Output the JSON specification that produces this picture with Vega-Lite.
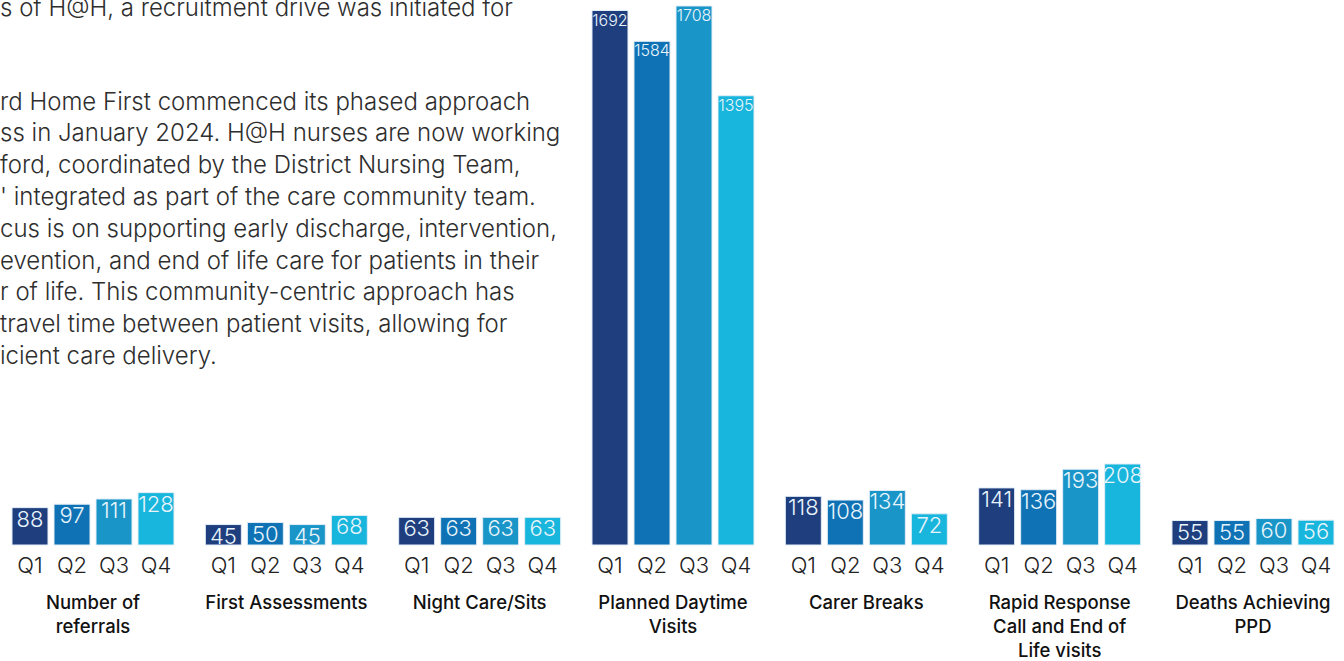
{
  "$schema": "https://vega.github.io/schema/vega-lite/v6.json",
  "autosize": {"type": "none"},
  "width": 1322,
  "height": 545,
  "padding": {"left": 12, "right": 10, "top": 0, "bottom": 116},
  "background": "#ffffff",
  "title": {
    "text": "s of H@H, a recruitment drive was initiated for",
    "subtitle": [
      "rd Home First commenced its phased approach",
      "ss in January 2024. H@H nurses are now working",
      "ford, coordinated by the District Nursing Team,",
      "' integrated as part of the care community team.",
      "cus is on supporting early discharge, intervention,",
      "evention, and end of life care for patients in their",
      "r of life. This community-centric approach has",
      " travel time between patient visits, allowing for",
      "icient care delivery."
    ],
    "anchor": "start",
    "frame": "group",
    "orient": "top",
    "font": "Inter",
    "fontSize": 24,
    "fontWeight": 300,
    "color": "#2e2e2e",
    "lineHeight": 31.8,
    "subtitleFont": "Inter",
    "subtitleFontSize": 24,
    "subtitleFontWeight": 300,
    "subtitleColor": "#2e2e2e",
    "subtitleLineHeight": 31.8,
    "subtitlePadding": 70,
    "offset": -369,
    "dx": -12
  },
  "data": {
    "values": [
      {"group": "Number of referrals", "quarter": "Q1", "value": 88},
      {"group": "Number of referrals", "quarter": "Q2", "value": 97},
      {"group": "Number of referrals", "quarter": "Q3", "value": 111},
      {"group": "Number of referrals", "quarter": "Q4", "value": 128},
      {"group": "First Assessments", "quarter": "Q1", "value": 45},
      {"group": "First Assessments", "quarter": "Q2", "value": 50},
      {"group": "First Assessments", "quarter": "Q3", "value": 45},
      {"group": "First Assessments", "quarter": "Q4", "value": 68},
      {"group": "Night Care/Sits", "quarter": "Q1", "value": 63},
      {"group": "Night Care/Sits", "quarter": "Q2", "value": 63},
      {"group": "Night Care/Sits", "quarter": "Q3", "value": 63},
      {"group": "Night Care/Sits", "quarter": "Q4", "value": 63},
      {"group": "Planned Daytime Visits", "quarter": "Q1", "value": 1692},
      {"group": "Planned Daytime Visits", "quarter": "Q2", "value": 1584},
      {"group": "Planned Daytime Visits", "quarter": "Q3", "value": 1708},
      {"group": "Planned Daytime Visits", "quarter": "Q4", "value": 1395},
      {"group": "Carer Breaks", "quarter": "Q1", "value": 118},
      {"group": "Carer Breaks", "quarter": "Q2", "value": 108},
      {"group": "Carer Breaks", "quarter": "Q3", "value": 134},
      {"group": "Carer Breaks", "quarter": "Q4", "value": 72},
      {"group": "Rapid Response Call and End of Life visits", "quarter": "Q1", "value": 141},
      {"group": "Rapid Response Call and End of Life visits", "quarter": "Q2", "value": 136},
      {"group": "Rapid Response Call and End of Life visits", "quarter": "Q3", "value": 193},
      {"group": "Rapid Response Call and End of Life visits", "quarter": "Q4", "value": 208},
      {"group": "Deaths Achieving PPD", "quarter": "Q1", "value": 55},
      {"group": "Deaths Achieving PPD", "quarter": "Q2", "value": 55},
      {"group": "Deaths Achieving PPD", "quarter": "Q3", "value": 60},
      {"group": "Deaths Achieving PPD", "quarter": "Q4", "value": 56}
    ]
  },
  "encoding": {
    "x": {
      "field": "group",
      "type": "nominal",
      "sort": null,
      "scale": {"paddingInner": 0.162, "paddingOuter": 0},
      "axis": {
        "title": null,
        "domain": false,
        "ticks": false,
        "grid": false,
        "labelAngle": 0,
        "labelPadding": 48,
        "labelFont": "Inter",
        "labelFontSize": 18.5,
        "labelFontWeight": 500,
        "labelColor": "#111111",
        "labelLineHeight": 24,
        "labelBaseline": "top",
        "labelLimit": 400,
        "labelExpr": "datum.label == 'Number of referrals' ? ['Number of', 'referrals'] : datum.label == 'Planned Daytime Visits' ? ['Planned Daytime', 'Visits'] : datum.label == 'Rapid Response Call and End of Life visits' ? ['Rapid Response', 'Call and End of', 'Life visits'] : datum.label == 'Deaths Achieving PPD' ? ['Deaths Achieving', 'PPD'] : datum.label"
      }
    },
    "xOffset": {
      "field": "quarter",
      "type": "nominal",
      "scale": {"paddingInner": 0.143, "paddingOuter": 0}
    }
  },
  "layer": [
    {
      "mark": {"type": "bar", "stroke": "#e3eef7", "strokeWidth": 1},
      "encoding": {
        "y": {
          "field": "value",
          "type": "quantitative",
          "scale": {"type": "pow", "exponent": 0.9, "domain": [0, 1729], "nice": false},
          "axis": null
        },
        "color": {
          "field": "quarter",
          "type": "nominal",
          "scale": {"domain": ["Q1", "Q2", "Q3", "Q4"], "range": ["#1f3e7e", "#0e72b5", "#1a95c8", "#18b5dc"]},
          "legend": null
        }
      }
    },
    {
      "mark": {"type": "text", "baseline": "top", "align": "center", "dy": 2, "font": "Inter", "fontWeight": 300, "color": "#e8f4fb"},
      "encoding": {
        "y": {"field": "value", "type": "quantitative"},
        "text": {"field": "value", "type": "quantitative", "format": "d"},
        "size": {"condition": {"test": "datum.value > 1000", "value": 16}, "value": 22}
      }
    },
    {
      "mark": {"type": "text", "baseline": "top", "align": "center", "dy": 11, "font": "Inter", "fontSize": 22, "fontWeight": 300, "color": "#222222"},
      "encoding": {
        "y": {"datum": 0, "type": "quantitative"},
        "text": {"field": "quarter", "type": "nominal"}
      }
    }
  ],
  "config": {"view": {"stroke": null}}
}
